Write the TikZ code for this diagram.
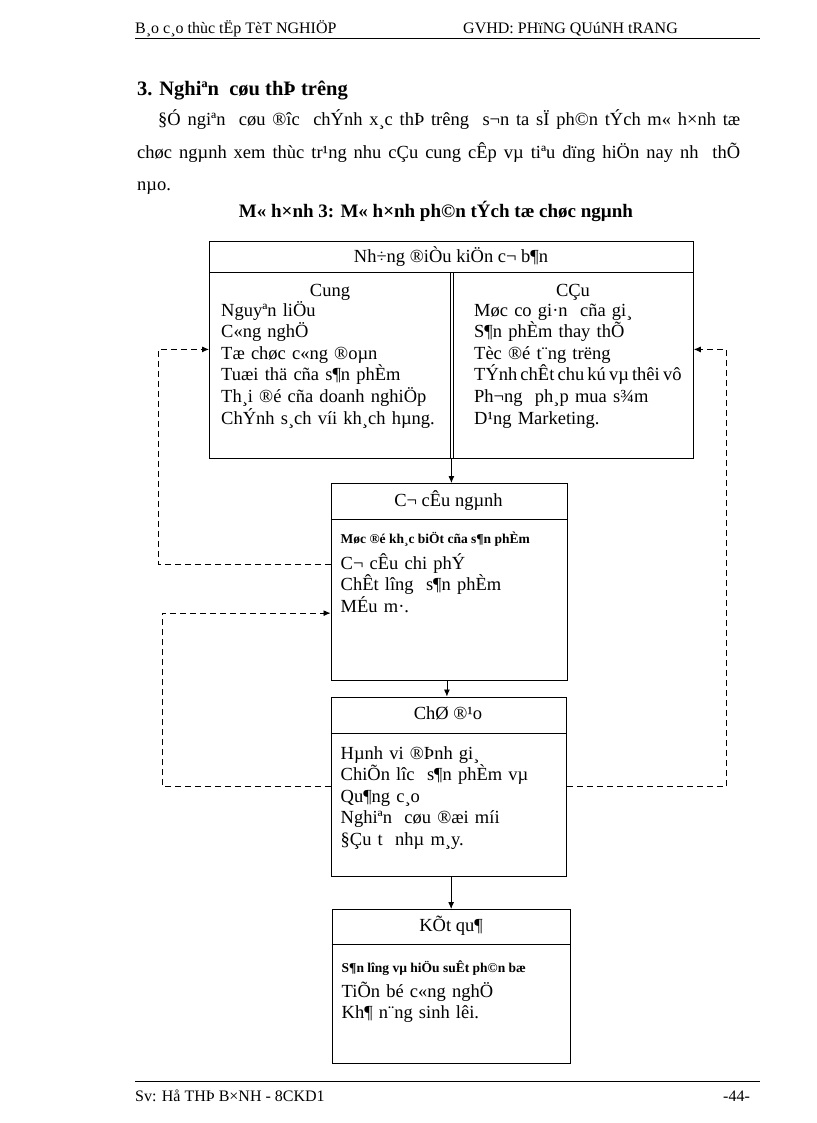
\documentclass[tikz,border=0pt]{standalone}
\usepackage{fontspec}
\setmainfont{Liberation Serif}
\usetikzlibrary{arrows.meta,positioning}

\begin{document}
\begin{tikzpicture}[x=1pt, y=-1pt,
    panel/.style={rectangle, draw, line width=0.8pt, inner sep=0pt, anchor=north west},
    title/.style={inner sep=0pt, anchor=base, font=\fontsize{18.5}{21.6}\selectfont},
    entry/.style={inner sep=0pt, anchor=base west, text width=240pt, align=left, font=\fontsize{18.5}{21.6}\selectfont},
    remark/.style={inner sep=0pt, anchor=base west, font=\fontsize{13.5}{16}\selectfont\bfseries},
    pagetext/.style={inner sep=0pt, anchor=base west, font=\fontsize{16}{18}\selectfont},
    flow/.style={-{Latex[length=7pt, width=6pt]}, line width=0.8pt},
    feedback/.style={-{Latex[length=7pt, width=6pt]}, line width=0.8pt, dash pattern=on 6pt off 4pt}
]
\useasboundingbox (0,0) rectangle (816,1123);

% Header and footer
\node[pagetext] (headleft) at (135,34) {B¸o c¸o thùc tËp TèT NGHIÖP};
\node[pagetext] (headright) at (463,34) {GVHD: PHïNG QUúNH tRANG};
\draw[line width=1.5pt] (135,38.5) -- (760,38.5);
\draw[line width=0.8pt] (135,1081.5) -- (760,1081.5);
\node[pagetext] (footleft) at (135,1101) {Sv: Hå THÞ B×NH - 8CKD1};
\node[pagetext] (footright) at (723,1101) {-44-};

% Section text
\node[inner sep=0pt, anchor=base west, font=\fontsize{20.5}{23}\selectfont\bfseries] (section) at (137,96) {3. Nghiªn\ \ cøu thÞ trêng};
\node[inner sep=0pt, anchor=base west, text width=603pt, align=justify, font=\fontsize{18.5}{32.5}\selectfont] (intro) at (137,126)
  {\hspace*{21pt}§Ó ngiªn\ \ cøu ®îc\ \ chÝnh x¸c thÞ trêng\ \ s¬n ta sÏ ph©n tÝch m« h×nh tæ\linebreak chøc ngµnh xem thùc tr¹ng nhu cÇu cung cÊp vµ tiªu dïng hiÖn nay nh\ \ thÕ\linebreak nµo.};
\node[inner sep=0pt, anchor=base, font=\fontsize{19}{21}\selectfont\bfseries] (figcap) at (436,218) {M« h×nh 3: M« h×nh ph©n tÝch tæ chøc ngµnh};

% Boxes
\node[panel, minimum width=484pt, minimum height=217pt] (conditions) at (209,240.5) {};
\draw[line width=0.8pt] ([yshift=-32pt]conditions.north west) -- ([yshift=-32pt]conditions.north east);
\draw[line width=0.8pt] ([xshift=241pt, yshift=-32pt]conditions.north west) -- ([xshift=241pt]conditions.south west);
\draw[line width=0.8pt] ([xshift=244pt, yshift=-32pt]conditions.north west) -- ([xshift=244pt]conditions.south west);
\node[title] (condtitle) at (451,262) {Nh÷ng ®iÒu kiÖn c¬ b¶n};
\node[title] (supplytitle) at (330,296) {Cung};
\node[title] (demandtitle) at (573,296) {CÇu};
\node[entry] (supply) at (221,316) {Nguyªn liÖu\\ C«ng nghÖ\\ Tæ chøc c«ng ®oµn\\ Tuæi thä cña s¶n phÈm\\ Th¸i ®é cña doanh nghiÖp\\ ChÝnh s¸ch víi kh¸ch hµng.};
\node[entry] (demand) at (474,316) {Møc co gi·n\ \ cña gi¸\\ S¶n phÈm thay thÕ\\ Tèc ®é t¨ng trëng\\ {\spaceskip=0.17em\relax TÝnh chÊt chu kú vµ thêi vô}\\ Ph¬ng\ \ ph¸p mua s¾m\\ D¹ng Marketing.};

\node[panel, minimum width=236pt, minimum height=196.5pt] (structure) at (330.5,483) {};
\draw[line width=0.8pt] ([yshift=-36pt]structure.north west) -- ([yshift=-36pt]structure.north east);
\node[title] (structtitle) at (448.5,506) {C¬ cÊu ngµnh};
\node[remark] (structnote) at (340.5,543) {Møc ®é kh¸c biÖt cña s¶n phÈm};
\node[entry] (structlist) at (340.5,569) {C¬ cÊu chi phÝ\\ ChÊt lîng\ \ s¶n phÈm\\ MÉu m·.};

\node[panel, minimum width=235.5pt, minimum height=179.5pt] (conduct) at (330.5,696.5) {};
\draw[line width=0.8pt] ([yshift=-36.5pt]conduct.north west) -- ([yshift=-36.5pt]conduct.north east);
\node[title] (conducttitle) at (448,719) {ChØ ®¹o};
\node[entry] (conductlist) at (340.5,759) {Hµnh vi ®Þnh gi¸\\ ChiÕn lîc\ \ s¶n phÈm vµ\\ Qu¶ng c¸o\\ Nghiªn\ \ cøu ®æi míi\\ §Çu t\ \ nhµ m¸y.};

\node[panel, minimum width=238.5pt, minimum height=154pt] (performance) at (331.5,909) {};
\draw[line width=0.8pt] ([yshift=-35pt]performance.north west) -- ([yshift=-35pt]performance.north east);
\node[title] (perftitle) at (451,931) {KÕt qu¶};
\node[remark] (perfnote) at (341.5,972) {S¶n lîng vµ hiÖu suÊt ph©n bæ};
\node[entry] (perflist) at (341.5,997) {TiÕn bé c«ng nghÖ\\ Kh¶ n¨ng sinh lêi.};

% Connections
\draw[flow] (conditions.south) -- (conditions.south |- structure.north);
\draw[flow] ([xshift=-2pt]structure.south) -- ([xshift=-2pt]structure.south |- conduct.north);
\draw[flow] (performance.north |- conduct.south) -- (performance.north);
\draw[feedback] ([yshift=17.5pt]structure.west) -- ++(-172.5,0) |- (conditions.west);
\draw[feedback] (conduct.west) -- ++(-168.5,0) |- ([yshift=-31.5pt]structure.west);
\draw[feedback] (conduct.east) -- ++(159.5,0) |- (conditions.east);

\end{tikzpicture}
\end{document}
